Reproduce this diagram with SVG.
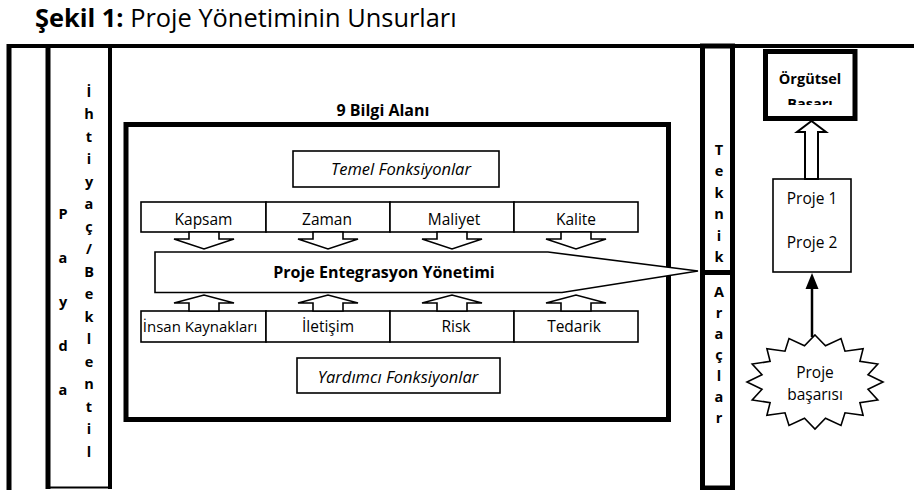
<svg xmlns="http://www.w3.org/2000/svg" width="914" height="490" viewBox="0 0 914 490">
<defs>
<style>
text{font-family:"Open Sans","Noto Sans","Liberation Sans",sans-serif;fill:#000}
.t{font-size:15.5px}
.b{font-size:16px;font-weight:bold}
.l{font-size:14.5px;font-weight:bold;text-anchor:middle}
.i{font-size:16.5px;font-style:italic;text-anchor:middle}
.c{text-anchor:middle}
.box{fill:#fff;stroke:#000;stroke-width:1.6}
.thick{fill:none;stroke:#000;stroke-width:5}
.arr{fill:#fff;stroke:#000;stroke-width:1.6;stroke-linejoin:miter}
</style>
<clipPath id="clipOrg"><rect x="765" y="51" width="90" height="54"/></clipPath>
</defs>
<rect width="914" height="490" fill="#fff"/>

<text x="35" y="27" style="font-size:25.4px"><tspan font-weight="bold">Şekil 1:</tspan> Proje Yönetiminin Unsurları</text>

<g id="frame">
<line x1="7" y1="46" x2="914" y2="46" stroke="#000" stroke-width="4"/>
<line x1="9" y1="44" x2="9" y2="490" stroke="#000" stroke-width="5"/>
</g>

<g id="paydas">
<line x1="48" y1="44" x2="48" y2="489" stroke="#000" stroke-width="5"/>
<line x1="110" y1="44" x2="110" y2="489" stroke="#000" stroke-width="4"/>
<line x1="48" y1="487.5" x2="110" y2="487.5" stroke="#000" stroke-width="2"/>
<g class="l">
<text x="63" y="219">P</text>
<text x="63" y="263">a</text>
<text x="63" y="307">y</text>
<text x="63" y="351">d</text>
<text x="63" y="395">a</text>
</g>
<g class="l">
<text x="89" y="97">İ</text>
<text x="89" y="119">h</text>
<text x="89" y="141.5">t</text>
<text x="89" y="164">i</text>
<text x="89" y="186.5">y</text>
<text x="89" y="209">a</text>
<text x="89" y="231.5">ç</text>
<text x="89" y="254">/</text>
<text x="89" y="276.5">B</text>
<text x="89" y="299">e</text>
<text x="89" y="321.5">k</text>
<text x="89" y="344">l</text>
<text x="89" y="366.5">e</text>
<text x="89" y="389">n</text>
<text x="89" y="411.5">t</text>
<text x="89" y="434">i</text>
<text x="89" y="456.5">l</text>
</g>
</g>

<g id="bilgi-alani">
<rect x="126" y="124.5" width="542.5" height="295" class="thick"/>
<text x="383" y="116" class="b c">9 Bilgi Alanı</text>
</g>

<g id="temel">
<rect x="293" y="151" width="206" height="36" class="box"/>
<text x="401" y="175" class="i">Temel Fonksiyonlar</text>
</g>

<g id="entegrasyon">
<polygon points="155,252 548,252 698,271 562,292.5 155,292.5" class="box"/>
<text x="384" y="278" class="b c">Proje Entegrasyon Yönetimi</text>
</g>

<g id="kapsam"><rect x="141" y="202" width="125" height="30" class="box"/><text x="203.5" y="225" class="t c">Kapsam</text></g>
<g id="zaman"><rect x="266" y="202" width="124" height="30" class="box"/><text x="327" y="225" class="t c">Zaman</text></g>
<g id="maliyet"><rect x="390" y="202" width="124" height="30" class="box"/><text x="454" y="225" class="t c">Maliyet</text></g>
<g id="kalite"><rect x="514" y="202" width="124" height="30" class="box"/><text x="576" y="225" class="t c">Kalite</text></g>

<g id="insan"><rect x="141" y="311" width="125" height="31" class="box"/><text x="200" y="332" class="c" style="font-size:15px">İnsan Kaynakları</text></g>
<g id="iletisim"><rect x="266" y="311" width="124" height="31" class="box"/><text x="328" y="332" class="t c">İletişim</text></g>
<g id="risk"><rect x="390" y="311" width="124" height="31" class="box"/><text x="456" y="332" class="t c">Risk</text></g>
<g id="tedarik"><rect x="514" y="311" width="124" height="31" class="box"/><text x="574" y="332" class="t c">Tedarik</text></g>

<g id="yardimci">
<rect x="297" y="358" width="203" height="35" class="box"/>
<text x="398" y="383" class="i">Yardımcı Fonksiyonlar</text>
</g>

<g id="teknik-araclar">
<rect x="702.5" y="46" width="30" height="442" class="thick"/>
<line x1="700" y1="272.5" x2="735" y2="272.5" stroke="#000" stroke-width="5"/>
<g class="l">
<text x="719" y="155">T</text>
<text x="719" y="176">e</text>
<text x="719" y="198">k</text>
<text x="719" y="219">n</text>
<text x="719" y="241">i</text>
<text x="719" y="262">k</text>
<text x="719" y="297">A</text>
<text x="719" y="318">r</text>
<text x="719" y="339">a</text>
<text x="719" y="360">ç</text>
<text x="719" y="381">l</text>
<text x="719" y="402">a</text>
<text x="719" y="423">r</text>
</g>
</g>

<g id="orgutsel">
<rect x="765.5" y="51.5" width="89.5" height="67" fill="#fff" stroke="#000" stroke-width="5"/>
<text x="810" y="84" class="c" style="font-size:14.5px;font-weight:bold">Örgütsel</text>
<text x="810" y="109" class="c" style="font-size:14.5px;font-weight:bold" clip-path="url(#clipOrg)">Başarı</text>
</g>

<g id="projeler">
<rect x="773" y="179" width="78" height="93" class="box"/>
<text x="812" y="204" class="t c">Proje 1</text>
<text x="812" y="248" class="t c">Proje 2</text>
</g>

<g id="proje-basarisi">
<polygon points="815,335 825.5,345.7 841,338.6 845,351.2 863.1,348.8 859.9,361.4 877.8,364 868,374.8 883,382 868,389.2 877.8,400 859.9,402.6 863.1,415.2 845,412.8 841,425.4 825.5,418.3 815,429 804.5,418.3 789,425.4 785,412.8 766.9,415.2 770.1,402.6 752.2,400 762,389.2 747,382 762,374.8 752.2,364 770.1,361.4 766.9,348.8 785,351.2 789,338.6 804.5,345.7" class="box"/>
<text x="815" y="378" class="t c">Proje</text>
<text x="815" y="400" class="t c">başarısı</text>
</g>

<g id="connectors">
<polygon points="189,232 189,239 174,239 204,249 234,239 219,239 219,232" class="arr"/>
<polygon points="313,232 313,239 298,239 328,249 358,239 343,239 343,232" class="arr"/>
<polygon points="437,232 437,239 422,239 452,249 482,239 467,239 467,232" class="arr"/>
<polygon points="561,232 561,239 546,239 576,249 606,239 591,239 591,232" class="arr"/>
<polygon points="189,311 189,303 174,303 204,295 234,303 219,303 219,311" class="arr"/>
<polygon points="313,311 313,303 298,303 328,295 358,303 343,303 343,311" class="arr"/>
<polygon points="437,311 437,303 422,303 452,295 482,303 467,303 467,311" class="arr"/>
<polygon points="561,311 561,303 546,303 576,295 606,303 591,303 591,311" class="arr"/>
<polygon points="805,179 805,132 797,132 811.5,121 826,132 818,132 818,179" fill="#fff" stroke="#000" stroke-width="2"/>
<line x1="812" y1="337" x2="812" y2="287" stroke="#000" stroke-width="2.5"/>
<polygon points="805.5,289 812,273 818.5,289" fill="#000"/>
</g>
</svg>
